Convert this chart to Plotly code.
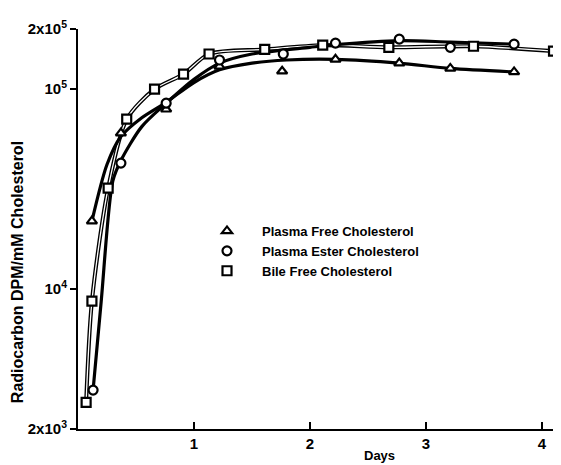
import math
import plotly.graph_objects as go

# ---- data ----
days_free = [0.12, 0.37, 0.76, 1.22, 1.76, 2.22, 2.77, 3.21, 3.76]
plasma_free = [21900, 60300, 79400, 130000, 123000, 141000, 135000, 127000, 122000]

days_ester = [0.13, 0.37, 0.76, 1.22, 1.77, 2.22, 2.77, 3.21, 3.76]
plasma_ester = [3130, 42700, 85100, 140000, 150000, 170000, 178000, 162000, 168000]

days_bile = [0.07, 0.12, 0.26, 0.42, 0.66, 0.91, 1.13, 1.61, 2.11, 2.68, 3.41, 4.10]
bile_free = [2720, 8710, 32000, 70800, 100000, 119000, 150000, 158000, 166000, 162000, 164000, 155000]

# hand-drawn fitted curves
curve_free_days = [0.12, 0.25, 0.37, 0.55, 0.76, 1.0, 1.22, 1.5, 1.8, 2.22, 2.77, 3.21, 3.76]
curve_free_vals = [21900, 42000, 58000, 72000, 86000, 108000, 125000, 135000, 140000, 141000, 135000, 127000, 122000]

curve_ester_days = [0.13, 0.2, 0.3, 0.37, 0.55, 0.76, 1.0, 1.22, 1.5, 2.0, 2.22, 2.77, 3.21, 3.76]
curve_ester_vals = [3130, 8700, 34700, 44000, 65000, 85000, 112000, 135000, 150000, 162000, 167000, 175000, 172000, 168000]

curve_bile_days = days_bile
curve_bile_vals = bile_free

y_tickvals = [2000, 10000, 100000, 200000]
y_ticktext = ["2x10<sup>3</sup>", "10<sup>4</sup>", "10<sup>5</sup>", "2x10<sup>5</sup>"]
x_tickvals = [1, 2, 3, 4]
x_ticktext = ["1", "2", "3", "4"]

FONT = "Liberation Sans"

fig = go.Figure()

# curves
fig.add_trace(go.Scatter(x=curve_bile_days, y=curve_bile_vals, mode="lines",
                         line=dict(color="black", width=4, shape="spline", smoothing=0.8),
                         showlegend=False, hoverinfo="skip"))
fig.add_trace(go.Scatter(x=curve_bile_days, y=curve_bile_vals, mode="lines",
                         line=dict(color="white", width=1.3, shape="spline", smoothing=0.8),
                         showlegend=False, hoverinfo="skip"))
fig.add_trace(go.Scatter(x=curve_free_days, y=curve_free_vals, mode="lines",
                         line=dict(color="black", width=3.2, shape="spline", smoothing=0.8),
                         showlegend=False, hoverinfo="skip"))
fig.add_trace(go.Scatter(x=curve_ester_days, y=curve_ester_vals, mode="lines",
                         line=dict(color="black", width=3.2, shape="spline", smoothing=0.8),
                         showlegend=False, hoverinfo="skip"))

# markers
fig.add_trace(go.Scatter(x=days_free, y=plasma_free, mode="markers", name="Plasma Free Cholesterol",
                         marker=dict(symbol="triangle-up", size=9, color="white",
                                     line=dict(color="black", width=2.2))))
fig.add_trace(go.Scatter(x=days_ester, y=plasma_ester, mode="markers", name="Plasma Ester Cholesterol",
                         marker=dict(symbol="circle", size=9, color="white",
                                     line=dict(color="black", width=2.2))))
fig.add_trace(go.Scatter(x=days_bile, y=bile_free, mode="markers", name="Bile Free Cholesterol",
                         marker=dict(symbol="square", size=9, color="white",
                                     line=dict(color="black", width=2.2))))

# the page body has an 8px margin, so the figure is sized/offset to compensate
fig.update_layout(
    width=553, height=457,
    margin=dict(l=70, r=4, t=21, b=36),
    paper_bgcolor="white", plot_bgcolor="white",
    font=dict(family=FONT, color="black", size=12, weight="bold"),
    showlegend=True,
    legend=dict(x=0.238, y=0.5325, xanchor="left", yanchor="top",
                bgcolor="rgba(0,0,0,0)", font=dict(size=13, family=FONT, weight="bold"),
                tracegroupgap=0, itemwidth=60),
    xaxis=dict(range=[0, 4.13], showgrid=False, zeroline=False,
               showline=True, linecolor="black", linewidth=2,
               tickvals=x_tickvals, ticktext=x_ticktext,
               ticks="inside", ticklen=7, tickwidth=2, tickcolor="black",
               tickfont=dict(size=15, family=FONT, weight="bold")),
    yaxis=dict(type="log", range=[math.log10(2000), math.log10(200000)],
               showgrid=False, zeroline=False,
               showline=True, linecolor="black", linewidth=2,
               tickvals=y_tickvals, ticktext=y_ticktext,
               ticks="outside", ticklen=6, tickwidth=2, tickcolor="black",
               tickfont=dict(size=15, family=FONT, weight="bold")),
    annotations=[
        dict(text="Days", xref="paper", yref="paper", x=0.63, y=-0.066,
             xanchor="center", yanchor="middle", showarrow=False,
             font=dict(size=13, family=FONT, weight="bold")),
        dict(text="Radiocarbon DPM/mM Cholesterol", xref="paper", yref="paper",
             x=-0.127, y=0.3925, textangle=-90, xanchor="center", yanchor="middle",
             showarrow=False, font=dict(size=16, family=FONT, weight="bold")),
    ],
)

fig.write_html("out.html")
